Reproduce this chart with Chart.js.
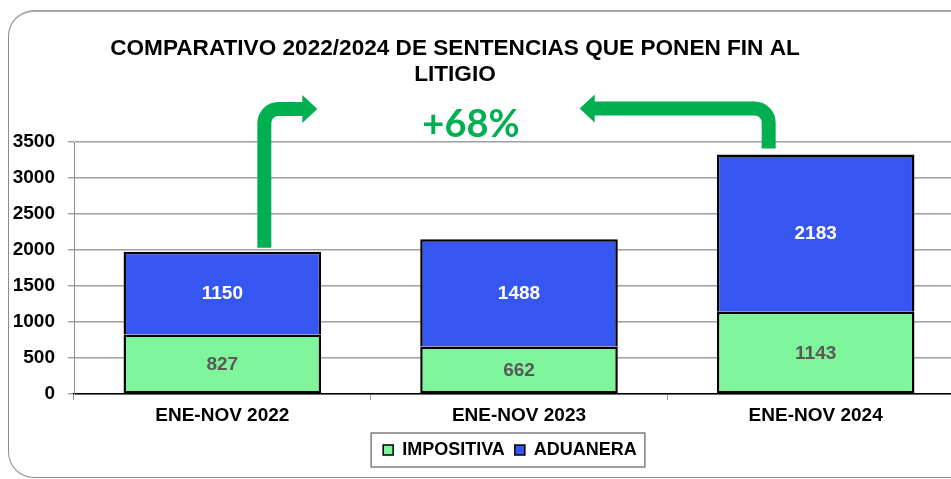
<!DOCTYPE html>
<html>
<head>
<meta charset="utf-8">
<script src="https://cdn.jsdelivr.net/npm/chart.js@4.4.1/dist/chart.umd.min.js"></script>
<style>
    html, body { margin: 0; padding: 0; background: #fff; overflow: hidden; }
    #wrap { position: relative; width: 951px; height: 479px; overflow: hidden; }
    #frame {
        position: absolute; left: 8px; top: 10px; width: 1000px; height: 465px;
        border: 1px solid #8c8c8c; border-top: 2px solid #a6a6a6; border-radius: 26px;
    }
    canvas { position: absolute; left: 0; top: 0; }
</style>
</head>
<body>
<div id="wrap">
    <div id="frame"></div>
    <canvas id="sentenciasChart" width="1000" height="479"></canvas>
</div>
<script>
// Data
const categories = ["ENE-NOV 2022", "ENE-NOV 2023", "ENE-NOV 2024"];
const impositiva = [827, 662, 1143];
const aduanera = [1150, 1488, 2183];
const yMax = 3500;
const yStep = 500;
const titleLines = ["COMPARATIVO 2022/2024 DE SENTENCIAS QUE PONEN FIN AL", "LITIGIO"];
const growthText = "+68%";

const FONT = "'Liberation Sans', Arial, sans-serif";
const GREEN = "#00B050";

Chart.defaults.font.family = FONT;
Chart.defaults.color = "#000";

// Values inside each bar segment
const barLabels = {
    id: "barLabels",
    afterDatasetsDraw(chart) {
        const ctx = chart.ctx;
        ctx.save();
        ctx.font = "bold 19px " + FONT;
        ctx.textAlign = "center";
        ctx.textBaseline = "middle";
        chart.data.datasets.forEach((ds, i) => {
            chart.getDatasetMeta(i).data.forEach((bar, j) => {
                ctx.fillStyle = ds.labelColor;
                ctx.fillText(ds.data[j], bar.x, (bar.y + bar.base) / 2 + 1);
            });
        });
        ctx.restore();
    }
};

function drawBentArrow(ctx, stemX, stemBottom, bandY, tipX) {
    const dir = Math.sign(tipX - stemX);
    const r = 14, head = 14, headLen = 15;
    const baseX = tipX - dir * headLen;
    ctx.save();
    ctx.strokeStyle = GREEN;
    ctx.fillStyle = GREEN;
    ctx.lineWidth = 14;
    ctx.beginPath();
    ctx.moveTo(stemX, stemBottom);
    ctx.lineTo(stemX, bandY + r);
    ctx.arcTo(stemX, bandY, stemX + dir * r, bandY, r);
    ctx.lineTo(baseX + dir, bandY);
    ctx.stroke();
    ctx.beginPath();
    ctx.moveTo(baseX, bandY - head);
    ctx.lineTo(tipX, bandY);
    ctx.lineTo(baseX, bandY + head);
    ctx.closePath();
    ctx.fill();
    ctx.restore();
}

// Title, arrows and growth text
const decorations = {
    id: "decorations",
    afterDraw(chart) {
        const ctx = chart.ctx;
        const area = chart.chartArea;
        const tops = chart.getDatasetMeta(1).data;

        ctx.save();
        ctx.fillStyle = "#000";
        ctx.textAlign = "center";
        ctx.textBaseline = "alphabetic";
        ctx.font = "bold 22.6px " + FONT;
        ctx.fillText(titleLines[0], 455, 55);
        ctx.fillText(titleLines[1], 455, 81);

        ctx.fillStyle = GREEN;
        ctx.font = "bold 38px Lato, " + FONT;
        ctx.fillText(growthText, 471, area.top - 5);
        ctx.restore();

        const first = tops[0];
        const last = tops[tops.length - 1];
        drawBentArrow(ctx, first.x + 42, first.y - 4, area.top - 33, first.x + 42 + 53);
        drawBentArrow(ctx, last.x - 47, last.y - 6, area.top - 33.5, last.x - 47 - 189);

        // legend frame
        const hb = chart.legend.legendHitBoxes;
        if (hb && hb.length) {
            const cy = hb[0].top + hb[0].height / 2;
            const left = hb[0].left - 12;
            const right = hb[hb.length - 1].left + hb[hb.length - 1].width + 8;
            ctx.save();
            ctx.strokeStyle = "#7f7f7f";
            ctx.lineWidth = 1.5;
            ctx.strokeRect(left, cy - 17, right - left, 34);
            ctx.restore();
        }
    }
};

// Move legend so it sits under the middle bar like the original
const legendPlace = {
    id: "legendPlace",
    afterLayout(chart) {
        const lg = chart.legend;
        const dx = 510 - (lg.left + lg.right) / 2;
        lg.left += dx;
        lg.right += dx;
    }
};

new Chart("sentenciasChart", {
    type: "bar",
    data: {
        labels: categories,
        datasets: [{
            label: "IMPOSITIVA",
            data: impositiva,
            backgroundColor: "#7EF59A",
            borderColor: "#000",
            borderWidth: 2.5,
            borderSkipped: false,
            labelColor: "#595959"
        }, {
            label: "ADUANERA",
            data: aduanera,
            backgroundColor: "#3656F2",
            borderColor: "#000",
            borderWidth: { top: 2.5, left: 2.5, right: 2.5, bottom: 0 },
            borderSkipped: false,
            labelColor: "#fff"
        }]
    },
    options: {
        responsive: false,
        animation: false,
        layout: {
            padding: { top: 142, left: 0, right: 36, bottom: 10 }
        },
        datasets: {
            bar: { categoryPercentage: 1, barPercentage: 0.666 }
        },
        scales: {
            x: {
                stacked: true,
                grid: { drawOnChartArea: false, drawTicks: true, tickLength: 6, color: "#999" },
                border: { color: "#000", width: 1.5 },
                ticks: { font: { weight: "bold", size: 19 }, padding: 4, color: "#000" }
            },
            y: {
                stacked: true,
                min: 0,
                max: yMax,
                afterFit(scale) { scale.width = 74; },
                grid: { color: "#a0a0a0", lineWidth: 1.5, tickLength: 6 },
                border: { color: "#8c8c8c", width: 1 },
                ticks: {
                    stepSize: yStep,
                    font: { weight: "bold", size: 19 },
                    padding: 13,
                    color: "#000",
                    callback: value => String(value)
                }
            }
        },
        plugins: {
            title: { display: false },
            tooltip: { enabled: false },
            legend: {
                position: "bottom",
                labels: {
                    boxWidth: 10,
                    boxHeight: 10,
                    padding: 10,
                    color: "#000",
                    font: { weight: "bold", size: 18 },
                    generateLabels(chart) {
                        const items = Chart.defaults.plugins.legend.labels.generateLabels(chart);
                        items.forEach(it => { it.lineWidth = 1.5; it.strokeStyle = "#000"; });
                        return items;
                    }
                }
            }
        }
    },
    plugins: [barLabels, decorations, legendPlace]
});
</script>
</body>
</html>
